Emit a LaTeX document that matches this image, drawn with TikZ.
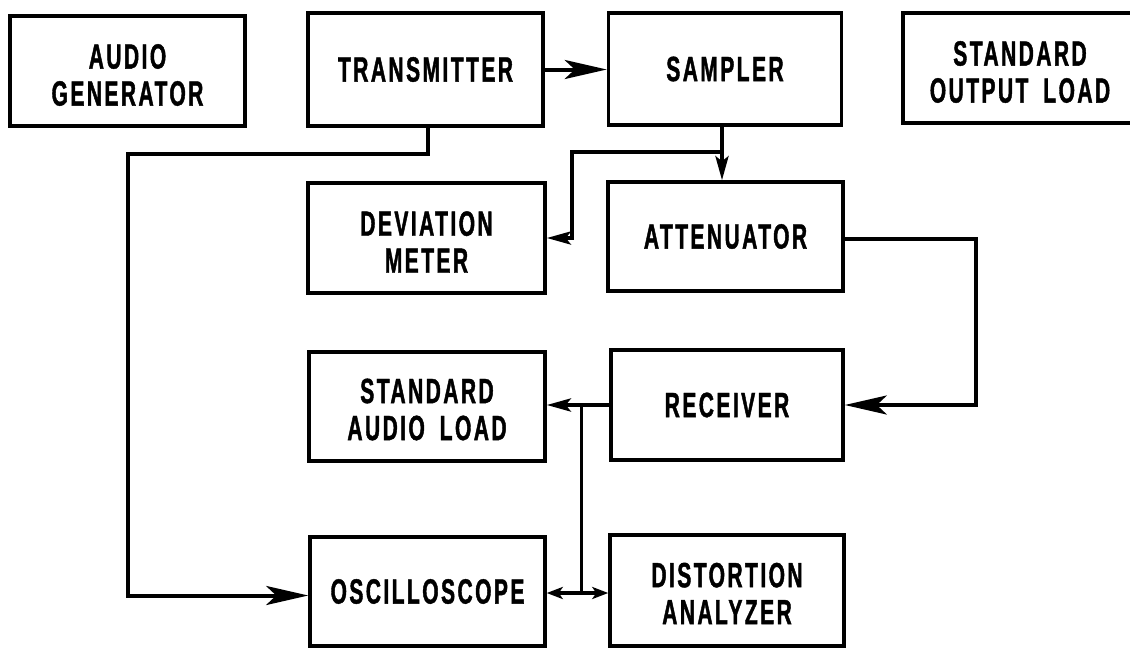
\documentclass[tikz,border=0pt]{standalone}
\usepackage{fontspec}
\setmainfont{Liberation Sans}[FakeStretch=0.6,LetterSpace=7,FakeBold=1.2,WordSpace=1.8]
\usetikzlibrary{arrows.meta}
\begin{document}
\begin{tikzpicture}[x=1pt,y=-1pt,
  blk/.style={draw=black,line width=3.5pt,inner sep=0pt},
  lbl/.style={align=center,inner sep=0pt,
    font=\bfseries\fontsize{35}{37}\selectfont},
  wire/.style={draw=black,line width=4pt},
  thinwire/.style={draw=black,line width=3pt},
  bigtip/.style={-{Stealth[length=42pt,width=19pt,inset=10pt]}},
  smalltip/.style={-{Stealth[length=24pt,width=13pt,inset=5pt]}},
  tinytip/.style={-{Stealth[length=16pt,width=12pt,inset=4pt]}}]
\useasboundingbox (0,0) rectangle (1130,648);
\clip (0,0) rectangle (1130,648);
\fill[white] (0,0) rectangle (1130,648);

\node[blk,minimum width=235pt,minimum height=110pt] (AG)  at (127.5,71)  {};
\node[blk,minimum width=235pt,minimum height=113pt] (TX)  at (425.5,69.5) {};
\node[blk,minimum width=233pt,minimum height=112pt] (SMP) at (725,69)    {};
\node[blk,minimum width=234pt,minimum height=110pt] (SOL) at (1020,68)   {};
\node[blk,minimum width=237pt,minimum height=110pt] (DM)  at (426.5,238) {};
\node[blk,minimum width=235pt,minimum height=109pt] (ATT) at (725.5,236.5) {};
\node[blk,minimum width=236pt,minimum height=109pt] (SAL) at (427,406.5) {};
\node[blk,minimum width=232pt,minimum height=110pt] (RCV) at (727,405)   {};
\node[blk,minimum width=235pt,minimum height=109pt] (OSC) at (427.5,591.5) {};
\node[blk,minimum width=234pt,minimum height=111pt] (DA)  at (727,590.5) {};

\node[lbl,yshift=-4pt] (AGt)  at (AG)  {AUDIO\\GENERATOR};
\node[lbl]             (TXt)  at (TX)  {TRANSMITTER};
\node[lbl]             (SMPt) at (SMP) {SAMPLER};
\node[lbl,yshift=-4pt] (SOLt) at (SOL) {STANDARD\\OUTPUT LOAD};
\node[lbl,yshift=-4pt] (DMt)  at (DM)  {DEVIATION\\METER};
\node[lbl]             (ATTt) at (ATT) {ATTENUATOR};
\node[lbl,yshift=-3pt] (SALt) at (SAL) {STANDARD\\AUDIO LOAD};
\node[lbl]             (RCVt) at (RCV) {RECEIVER};
\node[lbl]             (OSCt) at (OSC) {OSCILLOSCOPE};
\node[lbl,yshift=-3pt] (DAt)  at (DA)  {DISTORTION\\ANALYZER};

\coordinate (c1) at (128,154);
\coordinate (b1) at (722,152);
\coordinate (b2) at (572,152);
\coordinate (b3) at (572,238);
\coordinate (c3) at (976,239);
\coordinate (j1) at (581,405);
\coordinate (j2) at (581,593);

% transmitter -> sampler
\draw[wire,bigtip] (TX.east) -- (TX.east -| SMP.west);
% transmitter -> oscilloscope
\draw[wire,bigtip,line join=miter] ([xshift=2.5pt]TX.south) |- (c1) |- ([yshift=-4pt]OSC.west);
% sampler -> attenuator
\draw[wire,smalltip] (b1 |- SMP.south) -- (b1 |- ATT.north);
% branch -> deviation meter
\draw[wire,smalltip,line join=miter] (b1) -- (b2) -- (b3) -- (b3 -| DM.east);
% attenuator -> receiver
\draw[wire,bigtip,line join=miter] (ATT.east |- c3) -- (c3) |- (RCV.east);
% receiver -> standard audio load
\draw[wire,smalltip] (RCV.west) -- (RCV.west -| SAL.east);
% branch to oscilloscope and distortion analyzer
\draw[thinwire] (j1) -- (j2);
\draw[wire,tinytip] (j2) -- (j2 -| OSC.east);
\draw[wire,tinytip] (j2) -- (j2 -| DA.west);
\end{tikzpicture}
\end{document}
